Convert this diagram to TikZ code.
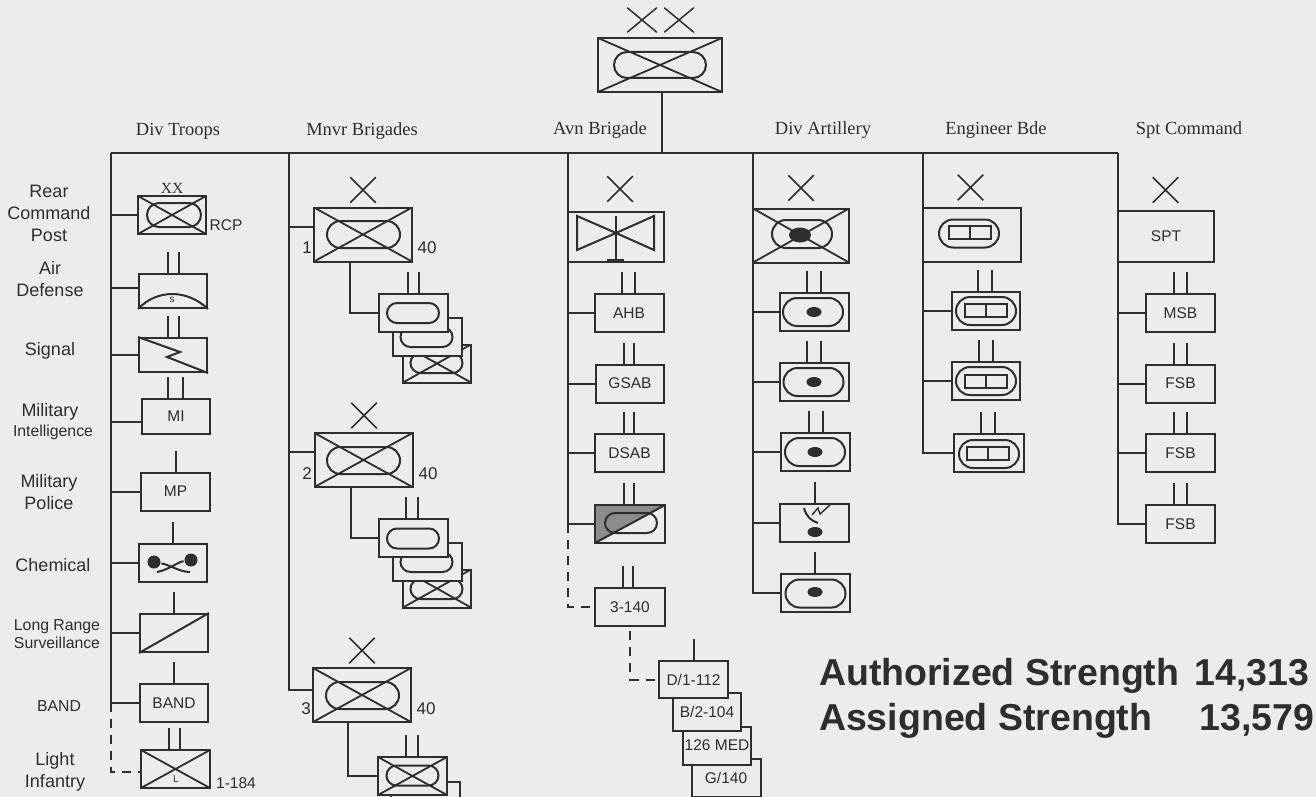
\documentclass[tikz,border=0pt]{standalone}
\usepackage{fontspec}
\setmainfont{Liberation Serif}
\setsansfont{Liberation Sans}
\usetikzlibrary{positioning,shapes.misc,shapes.geometric}
\definecolor{paper}{HTML}{ECECEC}
\definecolor{inkline}{HTML}{2E2E2E}
\definecolor{shadegray}{HTML}{8C8C8C}
\tikzset{
    %Define style for unit boxes
    unit/.style={
           rectangle,
           draw,
           fill=paper,
           inner sep=0pt,
           minimum width=69pt,
           minimum height=38pt,
           font=\fontsize{15.5}{18}\selectfont\sffamily,
           text centered},
    shortunit/.style={
           unit,
           minimum height=34pt},
    %Brigade and division boxes
    bdebox/.style={
           unit,
           minimum width=98pt,
           minimum height=54pt},
    crossed/.style={
           path picture={
             \draw[line width=1.8pt] (path picture bounding box.south west) -- (path picture bounding box.north east)
               (path picture bounding box.north west) -- (path picture bounding box.south east);}},
    %Symbols inside the boxes
    oval/.style={
           rounded rectangle,
           draw,
           inner sep=0pt,
           minimum width=52pt,
           minimum height=20pt},
    bigoval/.style={
           oval,
           minimum width=73pt,
           minimum height=27pt},
    artyoval/.style={
           oval,
           minimum width=60pt,
           minimum height=28pt},
    shell/.style={
           ellipse,
           fill,
           inner sep=0pt,
           minimum width=15pt,
           minimum height=10pt},
    bridge/.style={
           rectangle,
           draw,
           inner sep=0pt,
           minimum width=42pt,
           minimum height=13pt,
           path picture={
             \draw (path picture bounding box.north) -- (path picture bounding box.south);}},
    xmark/.style={
           cross out,
           draw,
           line width=1.5pt,
           inner sep=0pt,
           minimum width=24pt,
           minimum height=24pt},
    %Text styles
    sidelabel/.style={
           inner sep=0pt,
           align=center,
           font=\fontsize{18}{22}\selectfont\sffamily},
    sidesmall/.style={
           sidelabel,
           font=\fontsize{15.8}{18}\selectfont\sffamily},
    head/.style={
           inner sep=0pt,
           font=\fontsize{18.5}{22}\selectfont\rmfamily},
    number/.style={
           inner sep=0pt,
           font=\fontsize{17}{20}\selectfont\sffamily},
    strength/.style={
           inner sep=0pt,
           anchor=base west,
           font=\fontsize{37.5}{40}\selectfont\sffamily\bfseries},
    tiny/.style={
           inner sep=0pt,
           font=\fontsize{10}{12}\selectfont\sffamily},
    lacing/.style={
           dashed,
           dash pattern=on 9pt off 7pt}
}
%branch from a box to its trunk
\newcommand{\branch}[3][0]{\draw ([yshift=#1pt]#3.west) -| (#2);}
%marks above a box
\newcommand{\ticks}[3]{\draw ([xshift=#2pt]#1.north) -- +(0,-21) ([xshift=#3pt]#1.north) -- +(0,-21);}
\newcommand{\tick}[1]{\draw (#1.north) -- +(0,-21);}
\begin{document}
\begin{tikzpicture}[x=1pt,y=-1pt,line width=2pt,inkline]
\fill[paper] (0,0) rectangle (1316,797);
\useasboundingbox (0,0) rectangle (1316,797);
 %division
\node[unit, crossed, minimum width=124pt, minimum height=54pt](div) at (660,65){};
\node[oval, minimum width=92pt, minimum height=26pt](odiv) at (660,65){};
\node[xmark, minimum width=28pt, minimum height=23pt](xd1) at (642,20){};
\node[xmark, minimum width=28pt, minimum height=23pt](xd2) at (679,20){};
 %trunks
\coordinate (busL) at (111,153);
\coordinate (busM) at (289,153);
\coordinate (busA) at (568,153);
\coordinate (busD) at (753,153);
\coordinate (busE) at (923,153);
\coordinate (busR) at (1118,153);
\draw (busL) -- (busR);
\draw ([xshift=2pt]div.south) -- ([xshift=2pt]div.south |- busL);
 %column heads
\node[head](hdt) at (178,131){Div Troops};
\node[head](hmb) at (362,131){Mnvr Brigades};
\node[head](hab) at (600,130){Avn Brigade};
\node[head](hda) at (823,130){Div Artillery};
\node[head](heb) at (996,130){Engineer Bde};
\node[head](hsc) at (1189,130){Spt Command};
 %div troops
\node[unit, crossed, minimum width=68pt](rcp) at (172,215){};
\node[oval, minimum width=54pt, minimum height=24pt](orcp) at (174,215){};
\node[inner sep=0pt, font=\fontsize{15.5}{18}\selectfont\rmfamily](xxr) at (172,188){XX};
\node[number, font=\fontsize{15.5}{18}\selectfont\sffamily](lrcp) at (226,225){RCP};
\node[shortunit, minimum width=68pt](ad) at (173,291){};
\node[shortunit, minimum width=68pt](sig) at (173,355){};
\node[unit, minimum width=68pt, minimum height=35pt](mi) at (176,416.5){MI};
\node[unit](mp) at (175.5,491.5){MP};
\node[unit, minimum width=68pt](chem) at (173,563){};
\node[unit, minimum width=68pt](lrs) at (174,633){};
\node[unit, minimum width=68pt](band) at (174,703){BAND};
\node[unit, crossed](li) at (175.5,769){};
\node[tiny](tl) at (176,779){L};
\node[tiny](ts) at (172,300){s};
\node[number, font=\fontsize{15.5}{18}\selectfont\sffamily](l184) at (236,783){1-184};
\draw (ad.south west) .. controls (157,289) and (187,289) .. (ad.south east);
\draw (sig.north west) -- (180,352) -- (167,357) -- (sig.south east);
\node[circle, fill, inner sep=0pt, minimum size=13pt](c1) at (154,562){};
\node[circle, fill, inner sep=0pt, minimum size=13pt](c2) at (191,560){};
\draw (c1) .. controls (170,565) and (180,572) .. (190,572);
\draw (c2) .. controls (178,562) and (168,570) .. (157,572);
\draw (lrs.south west) -- (lrs.north east);
\ticks{ad}{-5}{6}
\ticks{sig}{-5}{6}
\ticks{mi}{-8}{7}
\tick{mp}
\tick{chem}
\tick{lrs}
\tick{band}
\ticks{li}{-7}{4}
\branch[0]{busL}{rcp}
\branch[3]{busL}{ad}
\branch{busL}{sig}
\branch[-5]{busL}{mi}
\branch{busL}{mp}
\branch{busL}{chem}
\branch{busL}{lrs}
\branch{busL}{band}
\coordinate (bandJ) at (band.west -| busL);
\draw[lacing] (bandJ) |- ([yshift=-3pt]li.west);
 %side labels
\node[sidelabel](lrear) at (49,213.5){Rear\\Command\\Post};
\node[sidelabel](lair) at (50,279.5){Air\\Defense};
\node[sidelabel](lsig) at (50,351){Signal};
\node[sidelabel](lmil) at (50,412){Military};
\node[sidesmall](lint) at (53,432){Intelligence};
\node[sidelabel](lmp) at (49,492){Military\\Police};
\node[sidelabel](lchem) at (53,565){Chemical};
\node[sidesmall](llrs) at (57,634){Long Range\\Surveillance};
\node[sidesmall](lband) at (59,706){BAND};
\node[sidelabel](llight) at (55,772){Light\\Infantry};
 %brigade 1
\node[bdebox, crossed](b1) at (363,234.5){};
\node[bigoval](ob1) at (363.5,234.5){};
\node[xmark](xb1) at (363,190){};
\node[number](nb1) at (307,248){1};
\node[number](rb1) at (427,248){40};
\node[unit, crossed, minimum width=68pt](c13) at (437,363.5){};
\node[oval](oc13) at (436.5,363){};
\node[unit](c12) at (427.5,336.5){};
\node[oval](oc12) at (426.5,337){};
\node[unit](c11) at (413.5,313){};
\node[oval](oc11) at (413,313){};
\ticks{c11}{-6}{5}
\branch[8]{busM}{b1}
\draw ([xshift=-13pt]b1.south) |- (c11.west);
 %brigade 2
\node[bdebox, crossed](b2) at (363.5,460){};
\node[bigoval](ob2) at (363.5,460.5){};
\node[xmark](xb2) at (364,415.5){};
\node[number](nb2) at (307,474){2};
\node[number](rb2) at (428,474){40};
\node[unit, crossed, minimum width=68pt](c23) at (437,588.5){};
\node[oval](oc23) at (436.5,589){};
\node[unit](c22) at (427,562){};
\node[oval](oc22) at (426.5,562){};
\node[unit](c21) at (413,538){};
\node[oval](oc21) at (413,538.5){};
\ticks{c21}{-7}{5}
\branch[8]{busM}{b2}
\draw ([xshift=-13pt]b2.south) |- (c21.west);
 %brigade 3
\node[bdebox, crossed](b3) at (362,695){};
\node[bigoval](ob3) at (362.5,695.5){};
\node[xmark](xb3) at (362,650.5){};
\node[number](nb3) at (306,709){3};
\node[number](rb3) at (426,709){40};
\node[unit](c32) at (425,801){};
\node[unit, crossed](c31) at (412.5,776){};
\node[oval](oc31) at (412.5,775.5){};
\ticks{c31}{-7}{5}
\branch[5]{busM}{b3}
\draw ([xshift=-14pt]b3.south) |- (c31.west);
 %aviation brigade
\node[unit, minimum width=96pt, minimum height=50pt](av) at (616,237){};
\node[xmark](xav) at (620,189){};
\draw (616,233) -- (577,216) -- (577,250) -- cycle;
\draw (616,233) -- (654,216) -- (654,250) -- cycle;
\draw (616,216) -- (616,262);
\draw[line width=3pt] (607,260.5) -- (624,260.5);
\node[unit](ahb) at (629,313){AHB};
\node[unit, minimum width=68pt](gsab) at (630,383.5){GSAB};
\node[unit](dsab) at (629.5,453){DSAB};
\node[unit, minimum width=70pt, path picture={
   \fill[shadegray] (path picture bounding box.north west) -- (path picture bounding box.north east) -- (path picture bounding box.south west) -- cycle;
   \draw (path picture bounding box.south west) -- (path picture bounding box.north east);}](atk) at (630,524){};
\node[oval](oatk) at (631,523){};
\node[unit, minimum width=70pt](t140) at (630,607){3-140};
\node[unit](g140) at (726,777.5){G/140};
\node[unit, minimum width=68pt](m126) at (717,745.5){126 MED};
\node[unit, minimum width=68pt](b104) at (707,711.5){B/2-104};
\node[unit, minimum height=37pt](d112) at (693.5,679.5){D/1-112};
\ticks{ahb}{-7}{6}
\ticks{gsab}{-6}{4}
\ticks{dsab}{-6}{4}
\ticks{atk}{-6}{4}
\ticks{t140}{-7}{3}
\tick{d112}
\draw (av.west) -| (busA);
\branch{busA}{ahb}
\branch{busA}{gsab}
\branch{busA}{dsab}
\branch{busA}{atk}
\coordinate (atkJ) at (atk.west -| busA);
\draw[lacing] (atkJ) |- (t140.west);
\draw[lacing] ([yshift=-4pt]t140.south) |- (d112.west);
 %division artillery
\node[bdebox, crossed, minimum width=96pt](da) at (801,235.5){};
\node[artyoval, minimum height=28pt](oda) at (802,234){};
\node[shell, minimum width=22pt, minimum height=15pt](sda) at (800,235){};
\node[xmark](xda) at (801,188){};
\node[unit](a1) at (814.5,312){};
\node[artyoval](oa1) at (813,312){};
\node[shell](sa1) at (814,312){};
\node[unit](a2) at (814.5,382){};
\node[artyoval](oa2) at (813.5,382){};
\node[shell](sa2) at (814,382){};
\node[unit](a3) at (815.5,452){};
\node[artyoval](oa3) at (815,452){};
\node[shell](sa3) at (815,452){};
\node[unit](a4) at (814.5,523){};
\node[shell](sa4) at (815,532){};
\draw (804,508) .. controls (806,516) and (811,521) .. (818,523);
\draw[line width=1.4pt] (812,515) -- (818,508) -- (820,514) -- (830,505);
\node[unit](a5) at (815,592.5){};
\node[artyoval](oa5) at (815.5,593.5){};
\node[shell](sa5) at (815,592){};
\ticks{a1}{-8}{6}
\ticks{a2}{-8}{6}
\ticks{a3}{-7}{7}
\tick{a4}
\tick{a5}
\draw (da.west) -| (busD);
\branch{busD}{a1}
\branch{busD}{a2}
\branch{busD}{a3}
\branch{busD}{a4}
\branch{busD}{a5}
 %engineer brigade
\node[bdebox](eb) at (972,234.5){};
\node[artyoval](oeb) at (969,233.5){};
\node[bridge](beb) at (970,232.5){};
\node[xmark](xeb) at (970.5,187.5){};
\node[unit, minimum width=68pt](e1) at (986,311){};
\node[artyoval](oe1) at (986,311){};
\node[bridge](be1) at (986,310){};
\node[unit, minimum width=68pt](e2) at (986,381){};
\node[artyoval](oe2) at (986,381){};
\node[bridge](be2) at (986,381.5){};
\node[unit, minimum width=70pt](e3) at (989,453){};
\node[artyoval](oe3) at (989,454){};
\node[bridge](be3) at (988,453.5){};
\ticks{e1}{-8}{6}
\ticks{e2}{-7}{7}
\ticks{e3}{-8}{6}
\draw (eb.west) -| (busE);
\branch{busE}{e1}
\branch{busE}{e2}
\branch{busE}{e3}
 %support command
\node[bdebox, minimum width=96pt, minimum height=51pt](spt) at (1166,236.5){SPT};
\node[xmark](xsp) at (1165.5,190){};
\node[unit](msb) at (1180.5,313){MSB};
\node[unit](f1) at (1180.5,383.5){FSB};
\node[unit](f2) at (1180.5,453){FSB};
\node[unit](f3) at (1180.5,524){FSB};
\ticks{msb}{-7}{6}
\ticks{f1}{-7}{6}
\ticks{f2}{-7}{6}
\ticks{f3}{-7}{6}
\draw (spt.west) -| (busR);
\branch{busR}{msb}
\branch{busR}{f1}
\branch{busR}{f2}
\branch{busR}{f3}
 %strength
\node[strength](sa) at (818,685){Authorized Strength\hspace{5pt} 14,313};
\node[strength](sb) at (818,730){Assigned Strength\hspace{47pt}13,579};
\end{tikzpicture}
\end{document}
